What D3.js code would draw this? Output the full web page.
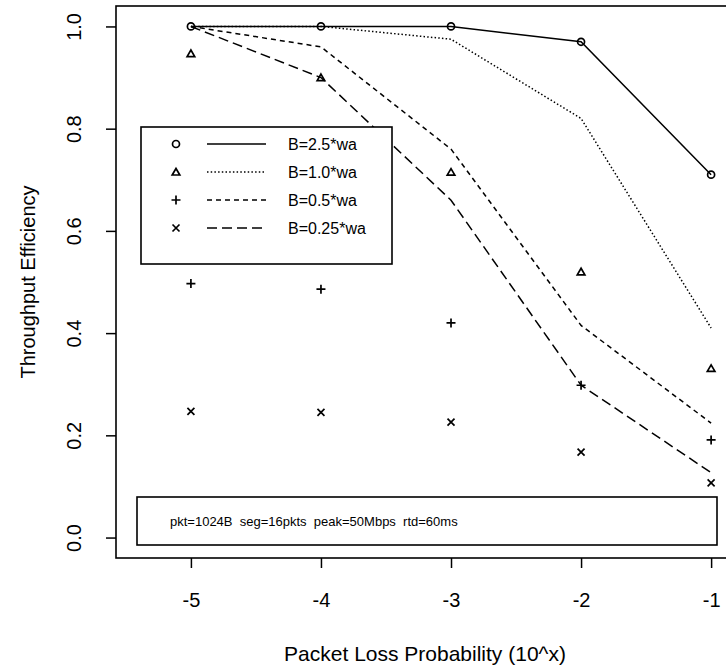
<!DOCTYPE html>
<head>
	<meta charset="utf-8">
	<style>
		body { margin: 0; background: #fff; }
		svg text { font-family: "Liberation Sans", Arial, sans-serif; fill: #000; }
		.frame { fill: none; stroke: #000; stroke-width: 1.6px; }
		.axis path { display: none; }
		.axis line { stroke: #000; stroke-width: 1.5px; }
		.axis text { font-size: 20px; }
		.model { fill: none; stroke: #000; stroke-width: 1.5px; }
		.mark { fill: none; stroke: #000; stroke-width: 1.7px; }
	</style>
</head>
<body>
<script src="https://d3js.org/d3.v7.min.js"></script>
<script>
// x values: packet loss probability exponent
var lossExp = [-5, -4, -3, -2, -1];
var yTicks = [0, 0.2, 0.4, 0.6, 0.8, 1.0];
var seriesNames = ["B=2.5*wa", "B=1.0*wa", "B=0.5*wa", "B=0.25*wa"];

// measured throughput (points)
var meas25 = [1.0, 1.0, 1.0, 0.97, 0.71];
var meas10 = [0.947, 0.90, 0.715, 0.52, 0.331];
var meas05 = [0.497, 0.486, 0.42, 0.298, 0.191];
var meas025 = [0.247, 0.245, 0.226, 0.167, 0.107];

// model throughput (lines)
var model25 = [1.0, 1.0, 1.0, 0.97, 0.71];
var model10 = [1.0, 1.0, 0.975, 0.82, 0.41];
var model05 = [1.0, 0.96, 0.76, 0.415, 0.224];
var model025 = [1.0, 0.90, 0.66, 0.298, 0.127];

var infoText = "pkt=1024B  seg=16pkts  peak=50Mbps  rtd=60ms";

var width = 726, height = 668;
var plotLeft = 116, plotRight = 734, plotTop = 6, plotBottom = 558;

var svg = d3.select("body").append("svg")
    .attr("width", width)
    .attr("height", height);

// scales: xlim -5.4..-1 and ylim 0..1, each padded by 4% like S/R
var x = d3.scaleLinear().domain([-5.576, -0.824]).range([plotLeft, plotRight]);
var y = d3.scaleLinear().domain([-0.04, 1.04]).range([plotBottom, plotTop]);

var styles = [
	{dash: null, sym: "circle"},
	{dash: "1.5,2.2", sym: "triangle"},
	{dash: "5,4", sym: "plus"},
	{dash: "10,5", sym: "cross"}
];
var measured = [meas25, meas10, meas05, meas025];
var models = [model25, model10, model05, model025];

function drawSymbol(g, type, cx, cy) {
	if (type == "circle") {
		g.append("circle").attr("class", "mark").attr("cx", cx).attr("cy", cy).attr("r", 3.5);
	} else if (type == "triangle") {
		g.append("path").attr("class", "mark")
			.attr("d", "M" + cx + "," + (cy - 3.5) + "L" + (cx + 3.8) + "," + (cy + 3) + "L" + (cx - 3.8) + "," + (cy + 3) + "Z");
	} else if (type == "plus") {
		g.append("path").attr("class", "mark")
			.attr("d", "M" + (cx - 4.5) + "," + cy + "H" + (cx + 4.5) + "M" + cx + "," + (cy - 4.5) + "V" + (cy + 4.5));
	} else {
		g.append("path").attr("class", "mark")
			.attr("d", "M" + (cx - 3.5) + "," + (cy - 3.5) + "L" + (cx + 3.5) + "," + (cy + 3.5) +
				"M" + (cx - 3.5) + "," + (cy + 3.5) + "L" + (cx + 3.5) + "," + (cy - 3.5));
	}
}

// model lines
var line = d3.line()
    .x(function(d, i) { return x(lossExp[i]); })
    .y(function(d) { return y(d); });

models.forEach(function(vals, k) {
	svg.append("path")
		.datum(vals)
		.attr("class", "model")
		.attr("stroke-dasharray", styles[k].dash)
		.attr("d", line);
});

// measured points
var pts = svg.append("g");
measured.forEach(function(vals, k) {
	vals.forEach(function(v, i) {
		drawSymbol(pts, styles[k].sym, x(lossExp[i]), y(v));
	});
});

// legend box (white background hides lines beneath)
var leg = svg.append("g");
leg.append("rect")
	.attr("x", 141).attr("y", 127).attr("width", 251).attr("height", 137)
	.attr("fill", "#fff").attr("stroke", "#000").attr("stroke-width", 1.6);
seriesNames.forEach(function(name, k) {
	var ly = 144 + k * 28;
	drawSymbol(leg, styles[k].sym, 176, ly);
	leg.append("line")
		.attr("x1", 207).attr("x2", 266).attr("y1", ly).attr("y2", ly)
		.attr("class", "model")
		.attr("stroke-dasharray", styles[k].dash);
	leg.append("text")
		.attr("x", 288).attr("y", ly)
		.attr("dominant-baseline", "central")
		.style("font-size", "16px")
		.text(name);
});

// info box
svg.append("rect")
	.attr("x", 137).attr("y", 497).attr("width", 580).attr("height", 48)
	.attr("fill", "#fff").attr("stroke", "#000").attr("stroke-width", 1.6);
svg.append("text")
	.attr("x", 170).attr("y", 521)
	.attr("dominant-baseline", "central")
	.style("font-size", "13px")
	.style("white-space", "pre")
	.text(infoText);

// X axis
svg.append("g")
    .attr("class", "axis")
    .attr("transform", "translate(0," + plotBottom + ")")
    .call(d3.axisBottom(x).tickValues(lossExp).tickSize(10).tickPadding(25)
		.tickFormat(function(d) { return String(d); }));

// Y axis, labels rotated like the original
var yAxis = svg.append("g")
    .attr("class", "axis")
    .attr("transform", "translate(" + plotLeft + ",0)")
    .call(d3.axisLeft(y).tickValues(yTicks).tickSize(10).tickFormat(""));
yAxis.selectAll(".tick").append("text")
	.attr("transform", "translate(-42,0) rotate(-90)")
	.attr("text-anchor", "middle")
	.attr("dominant-baseline", "central")
	.text(d3.format(".1f"));

// frame
svg.append("rect")
	.attr("class", "frame")
	.attr("x", plotLeft).attr("y", plotTop)
	.attr("width", plotRight - plotLeft).attr("height", plotBottom - plotTop);

// axis titles
svg.append("text")
	.attr("x", (plotLeft + plotRight) / 2).attr("y", 653)
	.attr("text-anchor", "middle")
	.attr("dominant-baseline", "central")
	.style("font-size", "21px")
	.text("Packet Loss Probability (10^x)");

svg.append("text")
	.attr("transform", "translate(28," + ((plotTop + plotBottom) / 2) + ") rotate(-90)")
	.attr("text-anchor", "middle")
	.attr("dominant-baseline", "central")
	.style("font-size", "20px")
	.text("Throughput Efficiency");
</script>
</body>
